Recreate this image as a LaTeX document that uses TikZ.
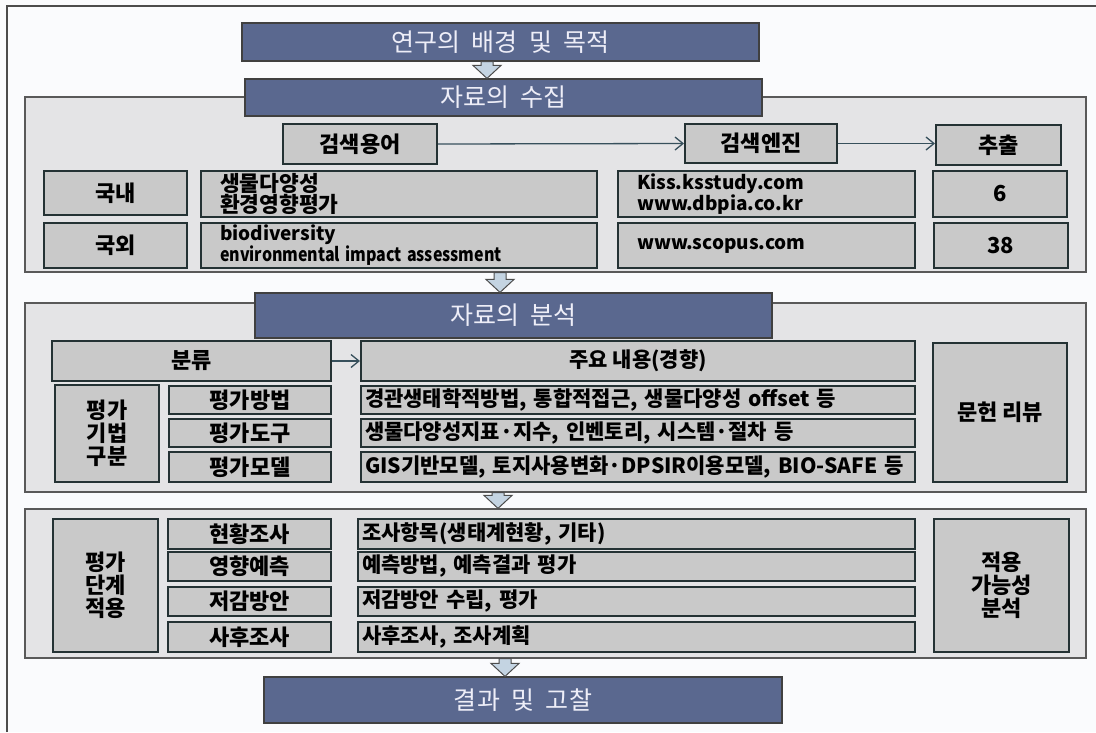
\documentclass[tikz,border=0pt]{standalone}
\usepackage{fontspec}
\setmainfont{Noto Sans CJK KR}
\newfontfamily\hdrfont{Noto Sans CJK KR}[LetterSpace=0.5, WordSpace=2]
\usepackage{xcolor}
\usepackage{tikz}
\usetikzlibrary{arrows.meta, calc}
\definecolor{hdrblue}{RGB}{90,104,143}
\definecolor{hdrtext}{RGB}{238,238,248}
\definecolor{panelgray}{RGB}{228,228,230}
\definecolor{cellgray}{RGB}{201,201,201}
\definecolor{celledge}{RGB}{36,50,52}
\definecolor{flowline}{RGB}{55,80,92}
\definecolor{flowfill}{RGB}{196,212,226}
\definecolor{paper}{RGB}{250,251,253}

% block arrow between two nodes, at a given x
\newcommand{\flowdown}[3]{%
  \path[flowarr] let \p1=(#2.south), \p2=(#3.north) in
    (#1pt-6pt,\y1) -- (#1pt+6pt,\y1) -- (#1pt+6pt,\y2+13pt) -- (#1pt+14pt,\y2+13pt)
    -- (#1pt,\y2) -- (#1pt-14pt,\y2+13pt) -- (#1pt-6pt,\y2+13pt) -- cycle;}

\begin{document}
\begin{tikzpicture}[x=1pt, y=-1pt,
  hdr/.style={draw=black!75, line width=1.2pt, fill=hdrblue, text=hdrtext, inner sep=0pt,
    font=\hdrfont\fontsize{25}{27}\selectfont},
  panel/.style={draw=black!65, line width=1.2pt, fill=panelgray, inner sep=0pt, minimum width=1061pt},
  cell/.style={draw=celledge, line width=2pt, fill=cellgray, inner sep=0pt,
    font=\bfseries\fontsize{22}{23}\selectfont},
  lcell/.style={cell, align=left, inner xsep=19pt, text width=#1},
  tcell/.style={cell, align=left, inner xsep=4pt, text width=#1, font=\bfseries\fontsize{21}{22}\selectfont},
  stack/.style={cell, align=center, font=\bfseries\fontsize{22}{23}\selectfont},
  flowarr/.style={draw=black!70, line width=1pt, fill=flowfill},
  link/.style={draw=flowline, line width=1.3pt, -{Straight Barb[length=8pt, width=13pt]}}]

\useasboundingbox[fill=paper] (0,0) rectangle (1096,732);
\draw[black!70, line width=1.5pt] (7,732) -- (7,6) -- (1096,6);

% panels
\node(p1)[panel, minimum height=175pt] at (555.5,184.5){};
\node(p2)[panel, minimum height=189pt] at (555.5,397.5){};
\node(p3)[panel, minimum height=149pt] at (555.5,583.5){};

% headers
\node(h1)[hdr, minimum width=517pt, minimum height=38pt] at (500.5,42){연구의 배경 및 목적};
\node(h2)[hdr, minimum width=517pt, minimum height=37pt] at (503.5,97.5){자료의 수집};
\node(h3)[hdr, minimum width=517pt, minimum height=45pt] at (513.5,315.5){자료의 분석};
\node(h4)[hdr, minimum width=518pt, minimum height=46pt] at (523,700){결과 및 고찰};

% data collection
\node(term)[cell, minimum width=154pt, minimum height=40pt] at (360,144){검색용어};
\node(engine)[cell, minimum width=152pt, minimum height=39pt] at (761,143.5){검색엔진};
\node(extract)[cell, minimum width=125pt, minimum height=40pt] at (998.5,145){추출};
\draw[link] (term.east) -- (engine.west);
\draw[link] (engine.east) -- (engine.east -| extract.west);

\node(dom)[cell, minimum width=143pt, minimum height=44pt] at (115.5,193){국내};
\node(domterm)[lcell=358pt, minimum height=46pt, font=\bfseries\fontsize{21.5}{21.5}\selectfont]
  at (399,194){생물다양성\\환경영향평가};
\node(domsite)[lcell=259pt, minimum height=46pt, font=\bfseries\fontsize{19}{21}\selectfont]
  at (766.5,194){Kiss.ksstudy.com\\www.dbpia.co.kr};
\node(domnum)[cell, minimum width=134pt, minimum height=46pt] at (1000,194){6};
\node(abr)[cell, minimum width=143pt, minimum height=45pt] at (115.5,245.5){국외};
\node(abrterm)[lcell=358pt, minimum height=45pt, font=\bfseries\fontsize{19}{21}\selectfont]
  at (399,245.5){biodiversity\\\scalebox{0.84}[1]{environmental impact assessment}};
\node(abrsite)[lcell=259pt, minimum height=45pt, font=\bfseries\fontsize{19}{21}\selectfont]
  at (766.5,245.5){www.scopus.com};
\node(abrnum)[cell, minimum width=134pt, minimum height=45pt] at (1000.5,245.5){38};

% analysis
\node(cls)[cell, minimum width=279pt, minimum height=40pt] at (191.5,361){분류};
\node(cont)[cell, minimum width=554pt, minimum height=40pt, font=\bfseries\fontsize{21}{22}\selectfont]
  at (638,361){주요 내용(경향)};
\draw[link] (cls.east) -- (cont.west);
\node(review)[cell, minimum width=134pt, minimum height=139pt] at (1000,412.5){문헌 리뷰};
\node(tech)[stack, minimum width=104pt, minimum height=97pt] at (107,433.5){평가\\기법\\구분};
\node(m1)[cell, minimum width=162pt, minimum height=28pt] at (250,400){평가방법};
\node(m2)[cell, minimum width=162pt, minimum height=28pt] at (250,433){평가도구};
\node(m3)[cell, minimum width=162pt, minimum height=30pt] at (250,467){평가모델};
\node(m1t)[tcell=546pt, minimum height=28pt] at (638,400){경관생태학적방법, 통합적접근, 생물다양성 offset 등};
\node(m2t)[tcell=546pt, minimum height=28pt] at (638,433){생물다양성지표·지수, 인벤토리, 시스템·절차 등};
\node(m3t)[tcell=546pt, minimum height=30pt] at (638,467){GIS기반모델, 토지사용변화·DPSIR이용모델, BIO-SAFE 등};

% application
\node(stage)[stack, minimum width=105pt, minimum height=133pt] at (105.5,585.5){평가\\단계\\적용};
\node(s1)[cell, minimum width=163pt, minimum height=30pt] at (249.5,534){현황조사};
\node(s2)[cell, minimum width=163pt, minimum height=29pt] at (249.5,566.5){영향예측};
\node(s3)[cell, minimum width=163pt, minimum height=29pt] at (249.5,601.5){저감방안};
\node(s4)[cell, minimum width=163pt, minimum height=30pt] at (249.5,637){사후조사};
\node(s1t)[tcell=549pt, minimum height=30pt] at (636.5,534){조사항목(생태계현황, 기타)};
\node(s2t)[tcell=549pt, minimum height=29pt] at (636.5,566.5){예측방법, 예측결과 평가};
\node(s3t)[tcell=549pt, minimum height=29pt] at (636.5,601.5){저감방안 수립, 평가};
\node(s4t)[tcell=549pt, minimum height=30pt] at (636.5,637){사후조사, 조사계획};
\node(feas)[stack, minimum width=135pt, minimum height=133pt] at (1001.5,585.5){적용\\가능성\\분석};

% flow between stages
\flowdown{487}{h1}{h2}
\flowdown{500}{p1}{h3}
\flowdown{498}{p2}{p3}
\flowdown{505}{p3}{h4}
\end{tikzpicture}
\end{document}
